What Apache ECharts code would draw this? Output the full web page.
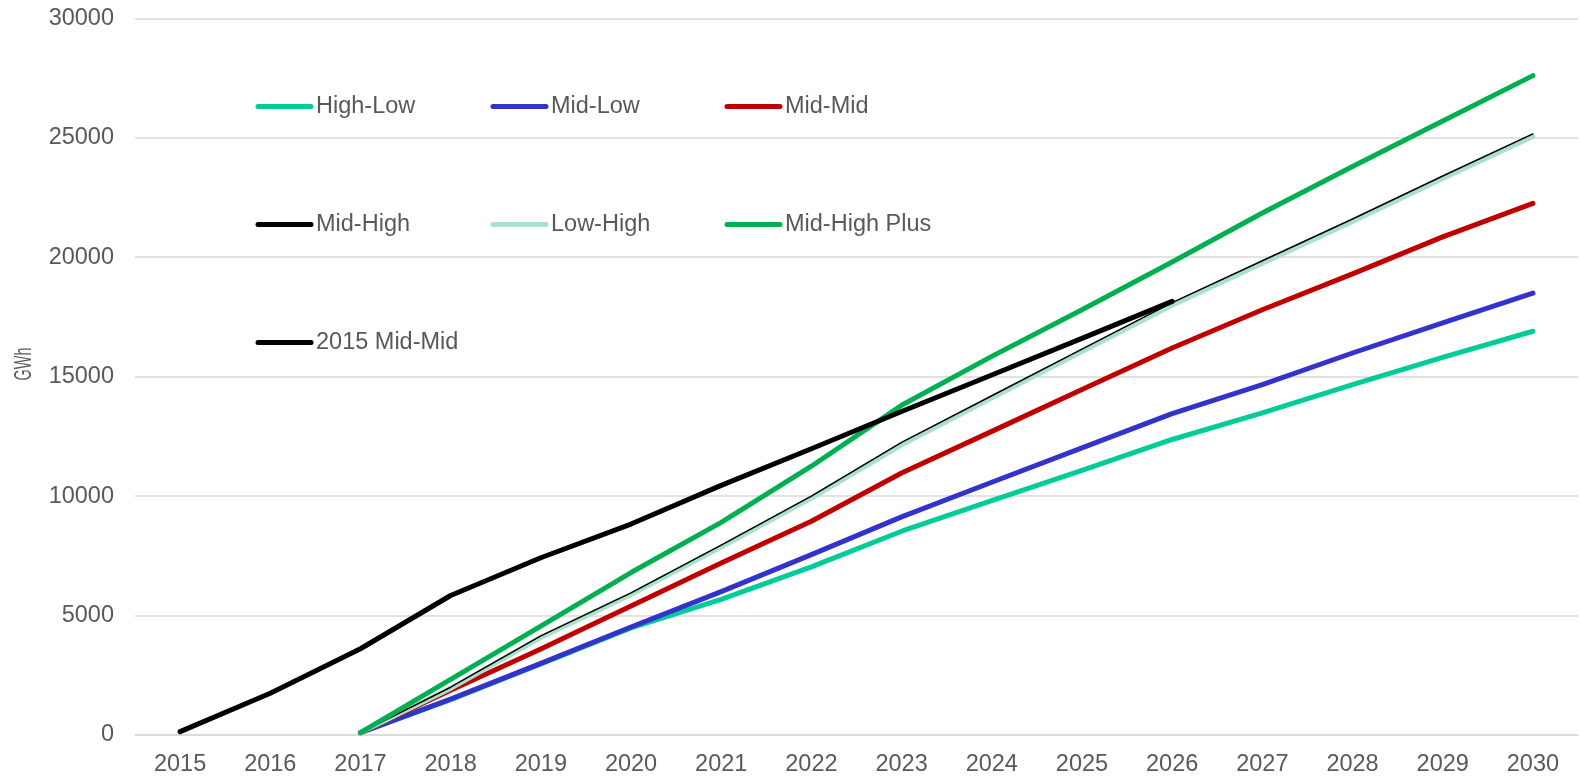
<!DOCTYPE html>
<html>
<head>
<meta charset="utf-8">
<script src="https://cdn.jsdelivr.net/npm/echarts@6/dist/echarts.min.js"></script>
<style>
  html, body { margin: 0; padding: 0; background: #fff; }
  #chart { width: 1580px; height: 777px; }
</style>
</head>
<body>
<div id="chart"></div>
<script>
// Cumulative energy savings scenarios, GWh by year
const years = ['2015','2016','2017','2018','2019','2020','2021','2022','2023','2024','2025','2026','2027','2028','2029','2030'];
const yTicks = [0, 5000, 10000, 15000, 20000, 25000, 30000];

const highLow     = [null, null, 100, 1480, 2980, 4480, 5680, 7040, 8530, 9815, 11080, 12370, 13480, 14670, 15810, 16900];
const midLow      = [null, null, 100, 1500, 3000, 4520, 6000, 7550, 9130, 10580, 12020, 13450, 14670, 15990, 17250, 18500];
const midMid      = [null, null, 100, 1870, 3600, 5400, 7200, 8950, 10970, 12710, 14460, 16200, 17800, 19300, 20850, 22250];
const midHigh     = [null, null, 100, 2000, 4150, 5950, 7950, 10000, 12250, 14200, 16150, 18100, 19850, 21600, 23400, 25160];
const lowHigh     = [null, null, 100, 1950, 4080, 5880, 7870, 9920, 12150, 14100, 16050, 17990, 19750, 21500, 23290, 25050];
const midHighPlus = [null, null, 100, 2330, 4560, 6800, 8900, 11250, 13800, 15850, 17800, 19800, 21850, 23800, 25700, 27600];
const mid2015     = [140, 1750, 3610, 5840, 7420, 8830, 10450, 11980, 13540, 15070, 16600, 18150, null, null, null, null];

const names = ['High-Low', 'Mid-Low', 'Mid-Mid', 'Mid-High', 'Low-High', 'Mid-High Plus', '2015 Mid-Mid'];
const values = [highLow, midLow, midMid, midHigh, lowHigh, midHighPlus, mid2015];
const colors = ['#00CC99', '#3333CC', '#C00000', '#000000', '#A9E2C9', '#00B050', '#000000'];
const widths = [5, 5, 5, 1.5, 5, 5, 5];
const zs     = [2, 3, 4, 6, 5, 7, 8];

// legend grid: three columns, three rows (x of the key line, y of the row centre)
const legendLeft = [255.5, 490.5, 724.5, 255.5, 490.5, 724.5, 255.5];
const legendMidY = [106.5, 106.5, 106.5, 224.5, 224.5, 224.5, 342.5];

const textColor = '#595959';
const fontFamily = '"Liberation Sans", Arial, sans-serif';
const labelSize = 23.5;
const legendLineHeight = 26;

const chart = echarts.init(document.getElementById('chart'), null, { renderer: 'canvas' });

chart.setOption({
  animation: false,
  backgroundColor: '#ffffff',
  color: colors,
  grid: { left: 135, right: 2, top: 18.3, bottom: 41.3, containLabel: false },
  legend: names.map((n, i) => ({
    data: [n],
    left: legendLeft[i],
    top: legendMidY[i] - legendLineHeight / 2,
    padding: 0,
    itemWidth: 53,
    itemHeight: 14,
    itemGap: 0,
    itemStyle: { opacity: 0 },
    lineStyle: { width: 5, cap: 'round' },
    textStyle: {
      color: textColor,
      fontSize: labelSize,
      lineHeight: legendLineHeight,
      fontFamily: fontFamily
    }
  })),
  graphic: [{
    type: 'text',
    x: 24,
    y: 364,
    rotation: Math.PI / 2,
    scaleX: 0.6,
    style: {
      text: 'GWh',
      fill: textColor,
      fontSize: 24,
      fontFamily: fontFamily,
      align: 'center',
      verticalAlign: 'middle'
    }
  }],
  xAxis: {
    type: 'category',
    data: years,
    boundaryGap: true,
    axisLine: { show: true, lineStyle: { color: '#D9D9D9', width: 1.5 } },
    axisTick: { show: false },
    axisLabel: {
      color: textColor,
      fontSize: labelSize,
      margin: 18,
      fontFamily: fontFamily
    },
    splitLine: { show: false }
  },
  yAxis: {
    type: 'value',
    min: yTicks[0],
    max: yTicks[yTicks.length - 1],
    interval: yTicks[1] - yTicks[0],
    axisLine: { show: false },
    axisTick: { show: false },
    axisLabel: {
      color: textColor,
      fontSize: labelSize,
      margin: 21,
      fontFamily: fontFamily,
      formatter: (v) => String(v)
    },
    splitLine: { show: true, lineStyle: { color: '#D9D9D9', width: 1.5 } }
  },
  series: names.map((n, i) => ({
    name: n,
    type: 'line',
    data: values[i],
    z: zs[i],
    symbol: 'none',
    smooth: false,
    connectNulls: false,
    lineStyle: { color: colors[i], width: widths[i], cap: 'round', join: 'round' },
    itemStyle: { color: colors[i] }
  }))
});
</script>
</body>
</html>
